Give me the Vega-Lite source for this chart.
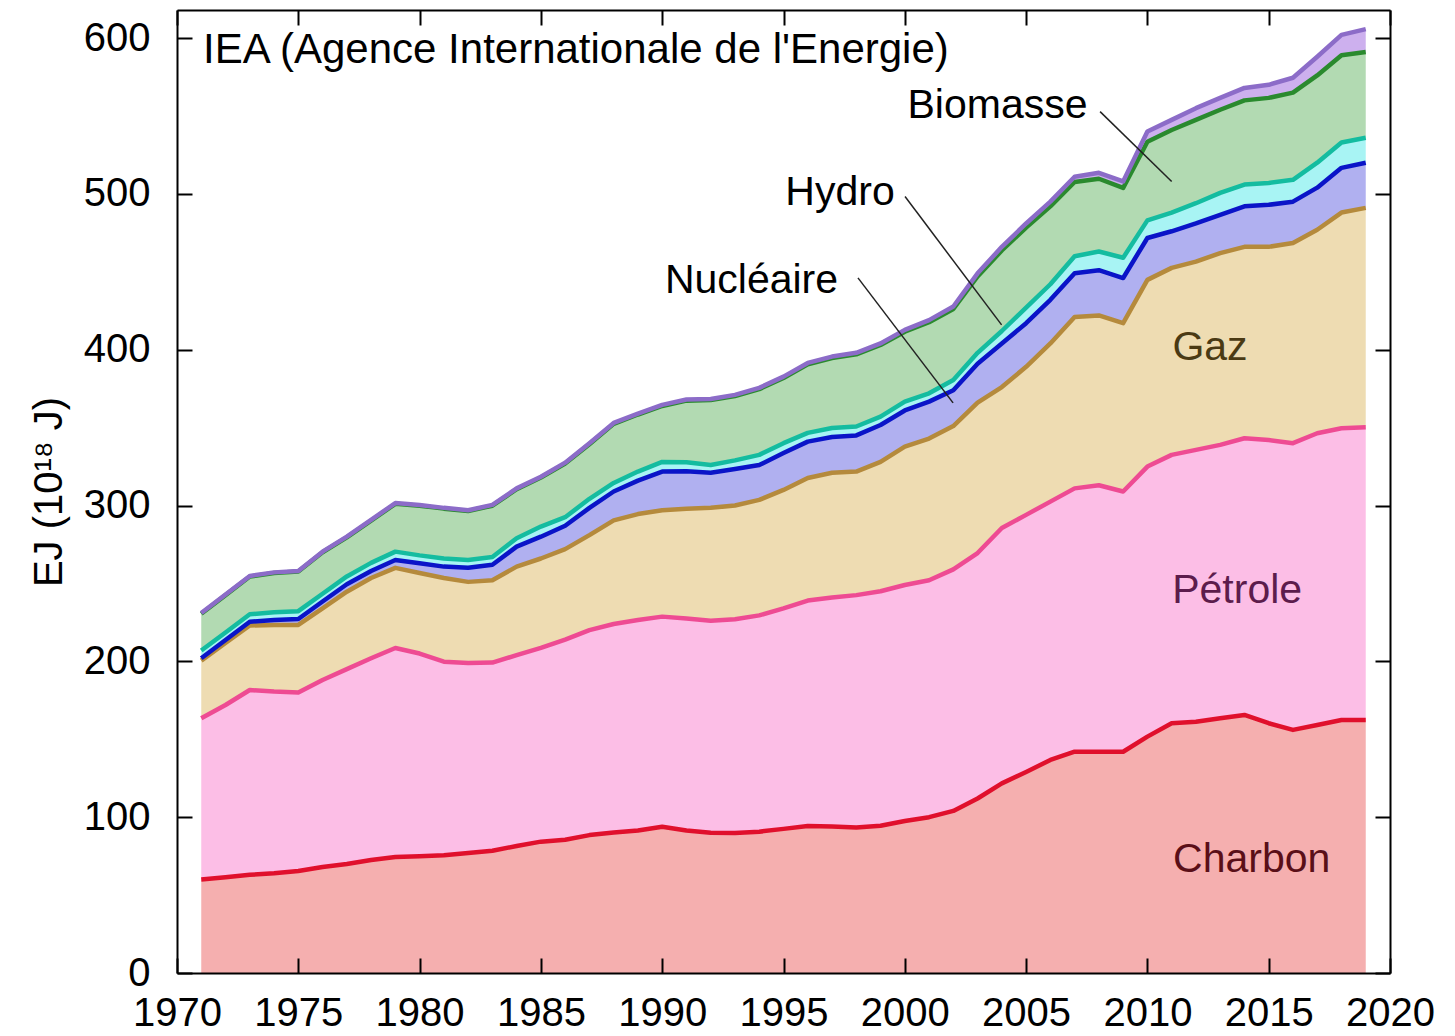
{
  "$schema": "https://vega.github.io/schema/vega-lite/v6.json",
  "width": 1213,
  "height": 963,
  "autosize": {"type": "none"},
  "padding": {"left": 177, "top": 10, "right": 65, "bottom": 63},
  "background": "white",
  "config": {"view": {"stroke": null}, "font": "Liberation Sans"},
  "datasets": {
    "energy": [
      {"year": 1971, "Charbon": 60, "Pétrole": 103.5, "Gaz": 37, "Nucléaire": 1.5, "Hydro": 5, "Biomasse": 23.6, "Autres": 0.4},
      {"year": 1972, "Charbon": 61.5, "Pétrole": 110.5, "Gaz": 39.8, "Nucléaire": 1.9, "Hydro": 4.8, "Biomasse": 24, "Autres": 0.4},
      {"year": 1973, "Charbon": 63, "Pétrole": 118.6, "Gaz": 41.4, "Nucléaire": 2.4, "Hydro": 4.8, "Biomasse": 24.2, "Autres": 0.4},
      {"year": 1974, "Charbon": 64, "Pétrole": 116.6, "Gaz": 42.8, "Nucléaire": 3.1, "Hydro": 5, "Biomasse": 25.2, "Autres": 0.4},
      {"year": 1975, "Charbon": 65.5, "Pétrole": 114.5, "Gaz": 43.4, "Nucléaire": 3.8, "Hydro": 5, "Biomasse": 25.4, "Autres": 0.4},
      {"year": 1976, "Charbon": 68, "Pétrole": 120, "Gaz": 46, "Nucléaire": 4.4, "Hydro": 5, "Biomasse": 26.6, "Autres": 0.4},
      {"year": 1977, "Charbon": 70, "Pétrole": 125, "Gaz": 49.7, "Nucléaire": 4.8, "Hydro": 5, "Biomasse": 25.1, "Autres": 0.4},
      {"year": 1978, "Charbon": 72.5, "Pétrole": 129.5, "Gaz": 51.5, "Nucléaire": 4.5, "Hydro": 5.2, "Biomasse": 27.1, "Autres": 0.5},
      {"year": 1979, "Charbon": 74.5, "Pétrole": 134.1, "Gaz": 51.4, "Nucléaire": 5, "Hydro": 5.4, "Biomasse": 30.7, "Autres": 0.5},
      {"year": 1980, "Charbon": 75, "Pétrole": 130, "Gaz": 51.7, "Nucléaire": 6.3, "Hydro": 5, "Biomasse": 31.9, "Autres": 0.5},
      {"year": 1981, "Charbon": 75.5, "Pétrole": 124.3, "Gaz": 53.7, "Nucléaire": 7.3, "Hydro": 5.2, "Biomasse": 32, "Autres": 0.5},
      {"year": 1982, "Charbon": 77, "Pétrole": 122, "Gaz": 52, "Nucléaire": 9, "Hydro": 5, "Biomasse": 31.5, "Autres": 0.5},
      {"year": 1983, "Charbon": 78.5, "Pétrole": 120.7, "Gaz": 52.8, "Nucléaire": 10, "Hydro": 5, "Biomasse": 32.9, "Autres": 0.5},
      {"year": 1984, "Charbon": 81.5, "Pétrole": 122.5, "Gaz": 56.8, "Nucléaire": 12.8, "Hydro": 5.4, "Biomasse": 31.5, "Autres": 0.5},
      {"year": 1985, "Charbon": 84.3, "Pétrole": 124.3, "Gaz": 57.4, "Nucléaire": 14, "Hydro": 6.5, "Biomasse": 31.5, "Autres": 0.5},
      {"year": 1986, "Charbon": 85.5, "Pétrole": 128.5, "Gaz": 58, "Nucléaire": 15, "Hydro": 5.5, "Biomasse": 34.4, "Autres": 0.6},
      {"year": 1987, "Charbon": 88.5, "Pétrole": 131.5, "Gaz": 61, "Nucléaire": 17.5, "Hydro": 5.8, "Biomasse": 35.1, "Autres": 0.6},
      {"year": 1988, "Charbon": 90.2, "Pétrole": 133.8, "Gaz": 66.5, "Nucléaire": 18.5, "Hydro": 5.5, "Biomasse": 37.9, "Autres": 0.6},
      {"year": 1989, "Charbon": 91.5, "Pétrole": 135, "Gaz": 68, "Nucléaire": 21.5, "Hydro": 5.8, "Biomasse": 36.6, "Autres": 0.6},
      {"year": 1990, "Charbon": 93.9, "Pétrole": 134.8, "Gaz": 68.3, "Nucléaire": 24.8, "Hydro": 6.2, "Biomasse": 35.9, "Autres": 0.7},
      {"year": 1991, "Charbon": 91.5, "Pétrole": 136, "Gaz": 70.5, "Nucléaire": 24, "Hydro": 5.8, "Biomasse": 39.5, "Autres": 0.7},
      {"year": 1992, "Charbon": 90, "Pétrole": 136, "Gaz": 72.5, "Nucléaire": 22.5, "Hydro": 5, "Biomasse": 41.7, "Autres": 0.7},
      {"year": 1993, "Charbon": 89.8, "Pétrole": 137.2, "Gaz": 73, "Nucléaire": 23.5, "Hydro": 5.5, "Biomasse": 41.2, "Autres": 0.8},
      {"year": 1994, "Charbon": 90.7, "Pétrole": 138.8, "Gaz": 74.1, "Nucléaire": 22.4, "Hydro": 6.5, "Biomasse": 42.2, "Autres": 0.8},
      {"year": 1995, "Charbon": 92.5, "Pétrole": 141.5, "Gaz": 76, "Nucléaire": 23.7, "Hydro": 6.3, "Biomasse": 41.8, "Autres": 0.9},
      {"year": 1996, "Charbon": 94.4, "Pétrole": 144.6, "Gaz": 78.7, "Nucléaire": 23.3, "Hydro": 5.6, "Biomasse": 44, "Autres": 0.9},
      {"year": 1997, "Charbon": 94, "Pétrole": 147, "Gaz": 80, "Nucléaire": 23, "Hydro": 5.8, "Biomasse": 44.8, "Autres": 1},
      {"year": 1998, "Charbon": 93.3, "Pétrole": 149.2, "Gaz": 79.3, "Nucléaire": 23.2, "Hydro": 5.7, "Biomasse": 46.3, "Autres": 1},
      {"year": 1999, "Charbon": 94.5, "Pétrole": 150.5, "Gaz": 83, "Nucléaire": 23.7, "Hydro": 5.3, "Biomasse": 46, "Autres": 1},
      {"year": 2000, "Charbon": 97.5, "Pétrole": 151.5, "Gaz": 88.8, "Nucléaire": 23.2, "Hydro": 5.7, "Biomasse": 44.8, "Autres": 1.2},
      {"year": 2001, "Charbon": 100, "Pétrole": 152, "Gaz": 91, "Nucléaire": 23.7, "Hydro": 5.3, "Biomasse": 45.6, "Autres": 1.4},
      {"year": 2002, "Charbon": 104, "Pétrole": 155, "Gaz": 92, "Nucléaire": 23, "Hydro": 6.6, "Biomasse": 45.5, "Autres": 1.6},
      {"year": 2003, "Charbon": 112, "Pétrole": 157.5, "Gaz": 96.5, "Nucléaire": 25, "Hydro": 7, "Biomasse": 49, "Autres": 2},
      {"year": 2004, "Charbon": 121.7, "Pétrole": 163.9, "Gaz": 90.4, "Nucléaire": 28, "Hydro": 8, "Biomasse": 51.7, "Autres": 2.3},
      {"year": 2005, "Charbon": 129, "Pétrole": 165, "Gaz": 95, "Nucléaire": 28, "Hydro": 10, "Biomasse": 51.4, "Autres": 2.6},
      {"year": 2006, "Charbon": 136.7, "Pétrole": 165.8, "Gaz": 101.5, "Nucléaire": 28, "Hydro": 10, "Biomasse": 50, "Autres": 3},
      {"year": 2007, "Charbon": 142, "Pétrole": 169, "Gaz": 110, "Nucléaire": 28, "Hydro": 11, "Biomasse": 47.6, "Autres": 3.4},
      {"year": 2008, "Charbon": 142, "Pétrole": 171, "Gaz": 109, "Nucléaire": 29, "Hydro": 12, "Biomasse": 46.7, "Autres": 3.8},
      {"year": 2009, "Charbon": 142, "Pétrole": 167, "Gaz": 108, "Nucléaire": 29, "Hydro": 13, "Biomasse": 44.8, "Autres": 4.2},
      {"year": 2010, "Charbon": 151.7, "Pétrole": 173.3, "Gaz": 119.8, "Nucléaire": 26.9, "Hydro": 11.3, "Biomasse": 50.5, "Autres": 6.5},
      {"year": 2011, "Charbon": 160.3, "Pétrole": 172.2, "Gaz": 120, "Nucléaire": 23.5, "Hydro": 12, "Biomasse": 53, "Autres": 6.5},
      {"year": 2012, "Charbon": 161.3, "Pétrole": 174.4, "Gaz": 120.8, "Nucléaire": 24.5, "Hydro": 13, "Biomasse": 53.5, "Autres": 7.5},
      {"year": 2013, "Charbon": 163.5, "Pétrole": 175.4, "Gaz": 123.1, "Nucléaire": 24.5, "Hydro": 14.1, "Biomasse": 53.4, "Autres": 7.6},
      {"year": 2014, "Charbon": 165.6, "Pétrole": 177.6, "Gaz": 122.8, "Nucléaire": 26, "Hydro": 14, "Biomasse": 54, "Autres": 8},
      {"year": 2015, "Charbon": 160.3, "Pétrole": 181.7, "Gaz": 124, "Nucléaire": 27, "Hydro": 14, "Biomasse": 54.6, "Autres": 8.4},
      {"year": 2016, "Charbon": 156, "Pétrole": 184, "Gaz": 128.5, "Nucléaire": 26.5, "Hydro": 14, "Biomasse": 56, "Autres": 9.5},
      {"year": 2017, "Charbon": 159.2, "Pétrole": 187.2, "Gaz": 130.6, "Nucléaire": 27, "Hydro": 16, "Biomasse": 56, "Autres": 12},
      {"year": 2018, "Charbon": 162.4, "Pétrole": 187.2, "Gaz": 138.4, "Nucléaire": 28.7, "Hydro": 16.3, "Biomasse": 56, "Autres": 13},
      {"year": 2019, "Charbon": 162.4, "Pétrole": 187.8, "Gaz": 140.8, "Nucléaire": 29, "Hydro": 16, "Biomasse": 55, "Autres": 14.7}
    ],
    "sources": [
      {"source": "Charbon", "order": 1},
      {"source": "Pétrole", "order": 2},
      {"source": "Gaz", "order": 3},
      {"source": "Nucléaire", "order": 4},
      {"source": "Hydro", "order": 5},
      {"source": "Biomasse", "order": 6},
      {"source": "Autres", "order": 7}
    ]
  },
  "data": {"name": "energy"},
  "transform": [
    {"fold": ["Charbon", "Pétrole", "Gaz", "Nucléaire", "Hydro", "Biomasse", "Autres"], "as": ["source", "ej"]},
    {"lookup": "source", "from": {"data": {"name": "sources"}, "key": "source", "fields": ["order"]}},
    {"stack": "ej", "groupby": ["year"], "sort": [{"field": "order", "order": "ascending"}], "as": ["y0", "y1"]}
  ],
  "layer": [
    {
      "mark": {"type": "area", "interpolate": "linear"},
      "encoding": {
        "x": {
          "field": "year", "type": "quantitative",
          "scale": {"domain": [1970, 2020], "nice": false, "zero": false},
          "axis": {
            "orient": "bottom", "values": [1970, 1975, 1980, 1985, 1990, 1995, 2000, 2005, 2010, 2015, 2020],
            "format": "d", "title": null, "grid": false,
            "labelFontSize": 40, "labelFont": "Liberation Sans", "labelColor": "black",
            "labelFlush": false, "labelOverlap": false,
            "tickSize": -15, "tickWidth": 2, "tickColor": "black",
            "domainColor": "black", "domainWidth": 2, "labelPadding": 35, "zindex": 2
          }
        },
        "y": {
          "field": "y1", "type": "quantitative",
          "scale": {"domain": [0, 618], "nice": false},
          "axis": {
            "orient": "left", "values": [0, 100, 200, 300, 400, 500, 600],
            "title": "EJ (10¹⁸ J)", "titleFontSize": 40, "titleFont": "Liberation Sans",
            "titleFontWeight": "normal", "titleColor": "black", "titlePadding": 14,
            "grid": false, "labelFontSize": 40, "labelFont": "Liberation Sans", "labelColor": "black",
            "labelFlush": false, "labelOverlap": false,
            "tickSize": -15, "tickWidth": 2, "tickColor": "black",
            "domainColor": "black", "domainWidth": 2, "labelPadding": 42, "zindex": 2
          }
        },
        "y2": {"field": "y0"},
        "fill": {
          "field": "source", "type": "nominal",
          "scale": {
            "domain": ["Charbon", "Pétrole", "Gaz", "Nucléaire", "Hydro", "Biomasse", "Autres"],
            "range": ["#f5afaf", "#fcbee6", "#eedcb2", "#b0b0f0", "#a8f4f4", "#b2dab2", "#cdb0ee"]
          },
          "legend": null
        }
      }
    },
    {
      "mark": {"type": "line", "strokeWidth": 4.5, "interpolate": "linear", "strokeJoin": "round"},
      "encoding": {
        "x": {
          "field": "year", "type": "quantitative",
          "axis": {
            "orient": "top", "values": [1970, 1975, 1980, 1985, 1990, 1995, 2000, 2005, 2010, 2015, 2020],
            "labels": false, "title": null, "grid": false,
            "tickSize": -15, "tickWidth": 2, "tickColor": "black",
            "domainColor": "black", "domainWidth": 2, "zindex": 2
          }
        },
        "y": {
          "field": "y1", "type": "quantitative",
          "axis": {
            "orient": "right", "values": [0, 100, 200, 300, 400, 500, 600],
            "labels": false, "title": null, "grid": false,
            "tickSize": -15, "tickWidth": 2, "tickColor": "black",
            "domainColor": "black", "domainWidth": 2, "zindex": 2
          }
        },
        "stroke": {
          "field": "source", "type": "nominal",
          "scale": {
            "domain": ["Charbon", "Pétrole", "Gaz", "Nucléaire", "Hydro", "Biomasse", "Autres"],
            "range": ["#e0102c", "#ee4b93", "#b58a3c", "#0a14c8", "#14bca0", "#2a8a2e", "#8c6cc8"]
          },
          "legend": null
        }
      }
    },
    {
      "data": {"values": [{}]},
      "mark": {"type": "text", "text": "IEA (Agence Internationale de l'Energie)", "font": "Liberation Sans", "fontSize": 42, "align": "left", "baseline": "alphabetic", "color": "black"},
      "encoding": {
        "x": {"datum": 1971.07, "type": "quantitative", "axis": null},
        "y": {"datum": 583.9, "type": "quantitative", "axis": null}
      }
    },
    {
      "data": {"values": [{}]},
      "mark": {"type": "text", "text": "Biomasse", "font": "Liberation Sans", "fontSize": 41, "align": "center", "baseline": "alphabetic", "color": "black"},
      "encoding": {
        "x": {"datum": 2003.82, "type": "quantitative", "axis": null},
        "y": {"datum": 548.8, "type": "quantitative", "axis": null}
      }
    },
    {
      "data": {"values": [{}]},
      "mark": {"type": "text", "text": "Hydro", "font": "Liberation Sans", "fontSize": 41, "align": "center", "baseline": "alphabetic", "color": "black"},
      "encoding": {
        "x": {"datum": 1997.33, "type": "quantitative", "axis": null},
        "y": {"datum": 492.9, "type": "quantitative", "axis": null}
      }
    },
    {
      "data": {"values": [{}]},
      "mark": {"type": "text", "text": "Nucléaire", "font": "Liberation Sans", "fontSize": 41, "align": "center", "baseline": "alphabetic", "color": "black"},
      "encoding": {
        "x": {"datum": 1993.68, "type": "quantitative", "axis": null},
        "y": {"datum": 436.6, "type": "quantitative", "axis": null}
      }
    },
    {
      "data": {"values": [{}]},
      "mark": {"type": "text", "text": "Gaz", "font": "Liberation Sans", "fontSize": 41, "align": "center", "baseline": "alphabetic", "color": "#4a3a14"},
      "encoding": {
        "x": {"datum": 2012.58, "type": "quantitative", "axis": null},
        "y": {"datum": 393.5, "type": "quantitative", "axis": null}
      }
    },
    {
      "data": {"values": [{}]},
      "mark": {"type": "text", "text": "Pétrole", "font": "Liberation Sans", "fontSize": 41, "align": "center", "baseline": "alphabetic", "color": "#5c1c4c"},
      "encoding": {
        "x": {"datum": 2013.7, "type": "quantitative", "axis": null},
        "y": {"datum": 237.7, "type": "quantitative", "axis": null}
      }
    },
    {
      "data": {"values": [{}]},
      "mark": {"type": "text", "text": "Charbon", "font": "Liberation Sans", "fontSize": 41, "align": "center", "baseline": "alphabetic", "color": "#5a0f18"},
      "encoding": {
        "x": {"datum": 2014.3, "type": "quantitative", "axis": null},
        "y": {"datum": 65, "type": "quantitative", "axis": null}
      }
    },
    {
      "data": {"values": [{}]},
      "mark": {"type": "rule", "color": "#222222", "strokeWidth": 1.5},
      "encoding": {
        "x": {"datum": 2008.05, "type": "quantitative", "axis": null},
        "y": {"datum": 552.8, "type": "quantitative", "axis": null},
        "x2": {"datum": 2011.0},
        "y2": {"datum": 507.9}
      }
    },
    {
      "data": {"values": [{}]},
      "mark": {"type": "rule", "color": "#222222", "strokeWidth": 1.5},
      "encoding": {
        "x": {"datum": 2000.01, "type": "quantitative", "axis": null},
        "y": {"datum": 498.3, "type": "quantitative", "axis": null},
        "x2": {"datum": 2003.99},
        "y2": {"datum": 415.9}
      }
    },
    {
      "data": {"values": [{}]},
      "mark": {"type": "rule", "color": "#222222", "strokeWidth": 1.5},
      "encoding": {
        "x": {"datum": 1998.07, "type": "quantitative", "axis": null},
        "y": {"datum": 446.1, "type": "quantitative", "axis": null},
        "x2": {"datum": 2001.99},
        "y2": {"datum": 365.9}
      }
    }
  ],
  "resolve": {"axis": {"x": "independent", "y": "independent"}}
}
